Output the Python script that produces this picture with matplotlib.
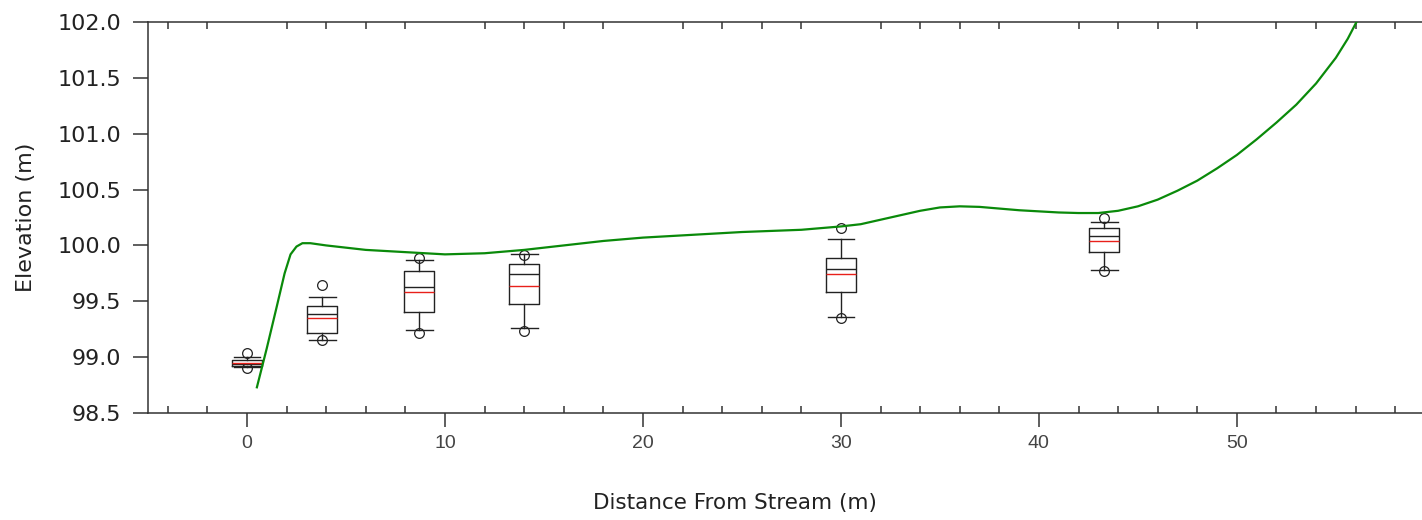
import matplotlib
matplotlib.use("Agg")
import matplotlib.pyplot as plt
from matplotlib.ticker import MultipleLocator

# sample stations: distance from stream (m) and elevation summaries (m)
positions = [0.0, 3.8, 8.7, 14.0, 30.0, 43.3]
whis_lo = [98.91, 99.15, 99.24, 99.26, 99.36, 99.78]
q1 = [98.92, 99.22, 99.40, 99.48, 99.58, 99.94]
median = [98.935, 99.39, 99.63, 99.74, 99.79, 100.08]
mean = [98.95, 99.35, 99.58, 99.64, 99.74, 100.04]
q3 = [98.97, 99.46, 99.77, 99.83, 99.89, 100.16]
whis_hi = [99.00, 99.54, 99.87, 99.92, 100.06, 100.21]
fliers = [[99.035, 98.905], [99.65, 99.15], [99.89, 99.22],
          [99.91, 99.23], [100.16, 99.35], [100.25, 99.77]]

# surveyed ground profile
profile_x = [0.5, 1.0, 1.5, 1.9, 2.2, 2.5, 2.8, 3.2, 4.0, 5.0, 6.0, 8.0,
             10.0, 12.0, 14.0, 16.0, 18.0, 20.0, 22.0, 25.0, 28.0, 30.0,
             31.0, 32.0, 33.0, 34.0, 35.0, 36.0, 37.0, 38.0, 39.0, 40.0,
             41.0, 42.0, 43.0, 44.0, 45.0, 46.0, 47.0, 48.0, 49.0, 50.0,
             51.0, 52.0, 53.0, 54.0, 55.0, 55.6, 56.1]
profile_z = [98.73, 99.08, 99.45, 99.75, 99.92, 99.99, 100.02, 100.02,
             100.00, 99.98, 99.96, 99.94, 99.92, 99.93, 99.96, 100.00,
             100.04, 100.07, 100.09, 100.12, 100.14, 100.17, 100.19, 100.23,
             100.27, 100.31, 100.34, 100.35, 100.345, 100.33, 100.315,
             100.305, 100.295, 100.29, 100.29, 100.31, 100.35, 100.41,
             100.49, 100.58, 100.69, 100.81, 100.95, 101.10, 101.26, 101.45,
             101.68, 101.85, 102.02]

stats = []
for i in range(len(positions)):
    stats.append({'whislo': whis_lo[i], 'q1': q1[i], 'med': median[i],
                  'mean': mean[i], 'q3': q3[i], 'whishi': whis_hi[i],
                  'fliers': fliers[i]})

fig = plt.figure(figsize=(14.22, 5.2), dpi=100)
ax = fig.add_axes([148 / 1422, 107 / 520, 1 - 148 / 1422, 391 / 520])

ink = '#222222'
ax.bxp(stats, positions=positions, widths=1.5, capwidths=1.35,
       showmeans=True, meanline=True, manage_ticks=False,
       boxprops=dict(color=ink, lw=1.0),
       whiskerprops=dict(color=ink, lw=1.0),
       capprops=dict(color=ink, lw=1.0),
       medianprops=dict(color=ink, lw=1.0),
       meanprops=dict(color='#e8201a', lw=1.0, linestyle='-'),
       flierprops=dict(marker='o', markersize=7, markerfacecolor='none',
                       markeredgecolor=ink, markeredgewidth=0.9))

ax.plot(profile_x, profile_z, color='#0a8a0a', lw=1.6, zorder=3)

ax.set_xlim(-5, 59.35)
ax.set_ylim(98.5, 102.0)

ax.xaxis.set_major_locator(MultipleLocator(10))
ax.xaxis.set_minor_locator(MultipleLocator(2))
ax.yaxis.set_major_locator(MultipleLocator(0.5))
ax.yaxis.set_major_formatter(plt.FormatStrFormatter('%.1f'))

ax.spines['right'].set_visible(False)
for s in ['left', 'top', 'bottom']:
    ax.spines[s].set_color('#333333')
    ax.spines[s].set_linewidth(1.1)

ax.tick_params(axis='x', which='major', direction='out', length=10,
               width=1.1, color='#333333', top=False, pad=6,
               labelsize=14, labelcolor='#444444')
ax.tick_params(axis='x', which='minor', direction='in', length=5,
               width=1.1, color='#333333', top=True, bottom=True)
ax.tick_params(axis='y', which='major', direction='out', length=11,
               width=1.1, color='#333333', pad=8, labelsize=16,
               labelcolor='#222222')
for lab in ax.get_xticklabels():
    lab.set_family('Liberation Sans')
for lab in ax.get_yticklabels():
    lab.set_family('DejaVu Sans')

ax.set_xlabel('Distance From Stream (m)', fontsize=15.5, color='#222222',
              family='DejaVu Sans')
ax.xaxis.set_label_coords((735 - 148) / (1422 - 148), -(503 - 413) / 391,
                          transform=ax.transAxes)
ax.xaxis.label.set_va('center')
ax.set_ylabel('Elevation (m)', fontsize=16, color='#222222',
              family='DejaVu Sans')
ax.yaxis.set_label_coords(-(148 - 26) / (1422 - 148), 0.5,
                          transform=ax.transAxes)
ax.yaxis.label.set_va('center')

fig.savefig('out.png', dpi=100)
